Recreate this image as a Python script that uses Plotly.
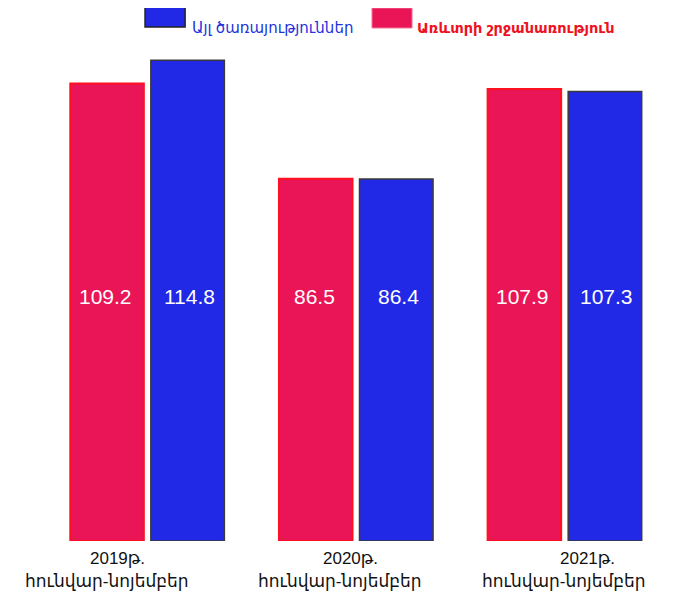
import plotly.graph_objects as go

years = ["2019թ.", "2020թ.", "2021թ."]
period = "հունվար-նոյեմբեր"
trade_name = "Առևտրի շրջանառություն"
services_name = "Այլ ծառայություններ"
trade_values = [109.2, 86.5, 107.9]
services_values = [114.8, 86.4, 107.3]

RED = "#EA1556"
BLUE = "#2229E6"
FONT = "Liberation Sans, Arial, DejaVu Sans, sans-serif"

fig = go.Figure()
fig.add_trace(go.Bar(x=years, y=trade_values, name=trade_name,
                     marker=dict(color=RED, line=dict(color="#FF1020", width=2)),
                     showlegend=False, hoverinfo="x+y"))
fig.add_trace(go.Bar(x=years, y=services_values, name=services_name,
                     marker=dict(color=BLUE, line=dict(color="#3a3a3a", width=1.5)),
                     showlegend=False, hoverinfo="x+y"))

ann = []
# value labels at fixed height
for i, yr in enumerate(years):
    ann.append(dict(x=yr, xref="x", xshift=-42, y=0.4775, yref="paper",
                    text=f"{trade_values[i]:.1f}", showarrow=False,
                    font=dict(family=FONT, size=21, color="white")))
    ann.append(dict(x=yr, xref="x", xshift=42, y=0.4775, yref="paper",
                    text=f"{services_values[i]:.1f}", showarrow=False,
                    font=dict(family=FONT, size=21, color="white")))

# category labels
line1_shift = [-30, -6, 23]
line2_shift = [-40, -16, -1]
for i, yr in enumerate(years):
    ann.append(dict(x=yr, xref="x", xshift=line1_shift[i], y=-0.0569, yref="paper",
                    text=yr, showarrow=False, font=dict(family=FONT, size=17, color="#111")))
    ann.append(dict(x=yr, xref="x", xshift=line2_shift[i], y=-0.1019, yref="paper",
                    text=period, showarrow=False, font=dict(family=FONT, size=17, color="#111")))

# custom legend
ann.append(dict(x=0.2348, y=1.0254, xref="paper", yref="paper", xanchor="left",
                text=services_name, showarrow=False,
                font=dict(family=FONT, size=15, color="#2233DD")))
ann.append(dict(x=0.594, y=1.0235, xref="paper", yref="paper", xanchor="left",
                text=f"<b>{trade_name}</b>", showarrow=False,
                font=dict(family=FONT, size=14.5, color="#EE1122")))

shapes = [
    dict(type="rect", xref="paper", yref="paper", x0=0.163, x1=0.227, y0=1.006, y1=1.047,
         fillcolor=BLUE, line=dict(color="#222", width=1.5)),
    dict(type="rect", xref="paper", yref="paper", x0=0.5256, x1=0.5895, y0=1.004, y1=1.043,
         fillcolor=RED, line=dict(color="#F07090", width=1)),
]

fig.update_layout(
    width=694, height=595,
    margin=dict(l=35, r=33, t=22, b=62, autoexpand=False),
    paper_bgcolor="white", plot_bgcolor="white",
    barmode="group", bargap=0.228, bargroupgap=0.087,
    xaxis=dict(range=[-0.5, 2.5], showticklabels=False, showline=False,
               showgrid=False, zeroline=False),
    yaxis=dict(range=[0, 122], visible=False),
    annotations=ann, shapes=shapes,
    font=dict(family=FONT),
)

fig.write_html("out.html")
